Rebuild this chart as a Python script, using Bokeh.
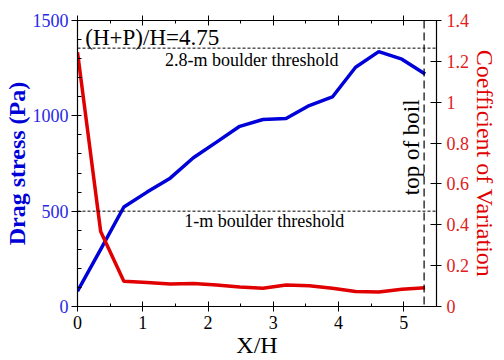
from bokeh.plotting import figure
from bokeh.models import Range1d, LinearAxis, SingleIntervalTicker, FixedTicker, Span, Label
from bokeh.embed import file_html
from bokeh.resources import INLINE
import math

# Data
x_h = [0.0, 0.355, 0.71, 1.065, 1.42, 1.775, 2.13, 2.485, 2.84, 3.195, 3.55, 3.905, 4.26, 4.615, 4.97, 5.325]
drag_stress = [80, 300, 522, 600, 673, 780, 862, 945, 981, 986, 1054, 1099, 1255, 1337, 1297, 1219]
coef_var = [1.245, 0.367, 0.124, 0.118, 0.110, 0.113, 0.105, 0.095, 0.089, 0.105, 0.102, 0.089, 0.073, 0.071, 0.084, 0.092]

threshold_1m = 500
threshold_28m = 1355
top_of_boil = 5.31

cv_ticks = [0, 0.2, 0.4, 0.6, 0.8, 1.0, 1.2, 1.4]

FONT = "Liberation Serif"
BLUE = "#0000d8"
BLUE_T = "#2828e6"
RED = "#e00000"
RED_T = "#e02020"

p = figure(width=504, height=360, output_backend="svg", toolbar_location=None,
           x_range=Range1d(0, 5.5), y_range=Range1d(0, 1500),
           min_border_left=77, min_border_right=68, min_border_top=20, min_border_bottom=52)
p.xgrid.visible = False
p.ygrid.visible = False
p.outline_line_color = "black"
p.background_fill_color = "white"
p.border_fill_color = "white"

p.extra_y_ranges = {"cv": Range1d(0, 1.4)}

# Left axis
ya = p.yaxis[0]
ya.ticker = SingleIntervalTicker(interval=500, num_minor_ticks=5)
ya.axis_label = "Drag stress (Pa)"
ya.axis_label_text_font = FONT
ya.axis_label_text_font_style = "bold"
ya.axis_label_text_font_size = "24px"
ya.axis_label_text_color = BLUE
ya.axis_label_standoff = 0
ya.major_label_text_font = FONT
ya.major_label_text_font_size = "18px"
ya.major_label_text_color = BLUE_T
ya.major_label_standoff = 3
ya.major_tick_out = 6
ya.major_tick_in = 0
ya.minor_tick_in = 4
ya.minor_tick_out = 0
ya.axis_line_width = 1.2

# Bottom axis
xa = p.xaxis[0]
xa.ticker = SingleIntervalTicker(interval=1, num_minor_ticks=2)
xa.axis_label = "X/H"
xa.axis_label_text_font = FONT
xa.axis_label_text_font_style = "normal"
xa.axis_label_text_font_size = "24px"
xa.axis_label_text_color = "black"
xa.axis_label_standoff = 0
xa.major_label_text_font = FONT
xa.major_label_text_font_size = "18px"
xa.major_label_text_color = "black"
xa.major_label_standoff = 4
xa.major_tick_out = 5
xa.major_tick_in = 5
xa.minor_tick_in = 3
xa.minor_tick_out = 0
xa.axis_line_width = 1.2

# Top axis (ticks only)
ta = LinearAxis(ticker=SingleIntervalTicker(interval=1, num_minor_ticks=2),
                major_label_text_font_size="1px", major_label_text_color=None,
                major_label_standoff=0,
                major_tick_out=5, major_tick_in=5, minor_tick_in=3, minor_tick_out=0,
                axis_line_width=1.2)
p.add_layout(ta, "above")

# Right axis
ra = LinearAxis(y_range_name="cv", ticker=FixedTicker(ticks=cv_ticks),
                axis_label="Coefficient of Variation")
ra.axis_label_text_font = FONT
ra.axis_label_text_font_style = "normal"
ra.axis_label_text_font_size = "24px"
ra.axis_label_text_color = RED
ra.axis_label_standoff = 0
ra.major_label_text_font = FONT
ra.major_label_text_font_size = "18px"
ra.major_label_text_color = RED_T
ra.major_label_standoff = 5
ra.major_tick_out = 5
ra.major_tick_in = 6
ra.minor_tick_in = 0
ra.minor_tick_out = 0
ra.axis_line_width = 1.2
p.add_layout(ra, "right")

# Threshold lines
p.add_layout(Span(location=threshold_1m, dimension="width", line_color="black",
                  line_dash="3 2", line_width=1))
p.add_layout(Span(location=threshold_28m, dimension="width", line_color="black",
                  line_dash="3 2", line_width=1))
p.add_layout(Span(location=top_of_boil, dimension="height", line_color="black",
                  line_dash="8 4", line_width=1.2))

# Lines
p.line(x_h, drag_stress, line_color=BLUE, line_width=3.5)
p.line(x_h, coef_var, line_color=RED, line_width=3.5, y_range_name="cv")

# Annotations
p.add_layout(Label(x=0.12, y=1413, text="(H+P)/H=4.75", text_font=FONT,
                   text_font_size="23px", text_baseline="middle", text_align="left",
                   text_color="black"))
p.add_layout(Label(x=2.67, y=1293, text="2.8-m boulder threshold", text_font=FONT,
                   text_font_size="18px", text_baseline="middle", text_align="center",
                   text_color="black"))
p.add_layout(Label(x=2.86, y=449, text="1-m boulder threshold", text_font=FONT,
                   text_font_size="18px", text_baseline="middle", text_align="center",
                   text_color="black"))
p.add_layout(Label(x=5.12, y=835, text="top of boil", text_font=FONT,
                   text_font_size="23px", text_baseline="middle", text_align="center",
                   angle=math.pi / 2, text_color="black"))

open("out.html", "w").write(file_html(p, INLINE))
